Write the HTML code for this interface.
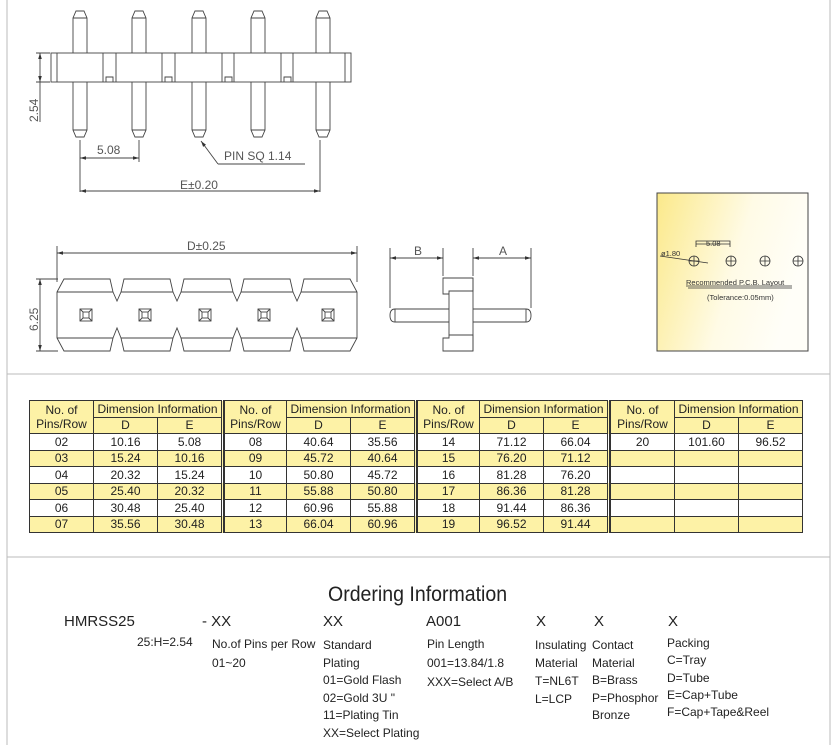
<!DOCTYPE html>
<html><head><meta charset="utf-8"><style>
body{margin:0;width:836px;height:745px;background:#fff;position:relative;overflow:hidden;font-family:"Liberation Sans",Arial,sans-serif}
svg{position:absolute;left:0;top:0}
table{position:absolute;left:29px;top:400px;border-collapse:collapse;font-size:12px;color:#222}
td{border:1px solid #333;text-align:center;height:15.5px;padding:0;line-height:14px}
.y td{background:#fdf2a6}
.h td{background:#fdf2a6}
td.s{border-left:3px double #333;width:0;padding:0}
.o{position:absolute;font-family:"Liberation Sans Narrow","Liberation Sans",sans-serif;font-size:12px;color:#222;white-space:nowrap}
.b{font-size:15px}
</style></head><body>
<svg width="836" height="745" viewBox="0 0 836 745">
<defs>
<linearGradient id="g" x1="0" y1="0" x2="1" y2="0.3"><stop offset="0" stop-color="#fbe98a"/><stop offset="0.6" stop-color="#fffbe6"/><stop offset="1" stop-color="#fffef8"/></linearGradient>
<marker id="a" viewBox="0 0 10 6" refX="10" refY="3" markerWidth="7" markerHeight="4" orient="auto-start-reverse"><path d="M0,0L10,3L0,6z" fill="#333"/></marker>
</defs>
<g stroke="#bbb" fill="none"><line x1="7" y1="0" x2="7" y2="745"/><line x1="830" y1="0" x2="830" y2="745"/><line x1="7" y1="374" x2="830" y2="374"/><line x1="7" y1="557" x2="830" y2="557"/></g>
<g stroke="#444" fill="none" stroke-width="0.9">
<g id="pins">
<path d="M73,130V18L76,11H84L87,18V130L84,137H76Z"/>
<path d="M132,130V18L135,11H143L146,18V130L143,137H135Z"/>
<path d="M192,130V18L195,11H203L206,18V130L203,137H195Z"/>
<path d="M251,130V18L254,11H262L265,18V130L262,137H254Z"/>
<path d="M316,130V18L319,11H327L330,18V130L327,137H319Z"/>
<path d="M73,130h14M132,130h14M192,130h14M251,130h14M316,130h14M73,18h14M132,18h14M192,18h14M251,18h14M316,18h14"/>
</g>
<rect x="51" y="53" width="300" height="29" fill="#fff"/>
<path d="M57,53v29M345,53v29M103,53v29M116,53v29M162,53v29M175,53v29M222,53v29M234,53v29M281,53v29M293,53v29M106,82v-5h7v5M165,82v-5h7v5M225,82v-5h7v5M284,82v-5h7v5"/>
<path d="M36,53h14M36,82h14M80,140v52M139,140v22M320,140v52"/>
<line x1="40" y1="53" x2="40" y2="82" marker-start="url(#a)" marker-end="url(#a)"/>
<line x1="40" y1="82" x2="40" y2="122"/>
<line x1="80" y1="158" x2="139" y2="158" marker-start="url(#a)" marker-end="url(#a)"/>
<line x1="80" y1="191" x2="320" y2="191" marker-start="url(#a)" marker-end="url(#a)"/>
<path d="M218,164L201,141" marker-end="url(#a)"/><path d="M218,164H305"/>
<path d="M57,246v36M357,246v36M36,279h22M36,351h22"/>
<line x1="57" y1="253" x2="357" y2="253" marker-start="url(#a)" marker-end="url(#a)"/>
<line x1="40" y1="279" x2="40" y2="351" marker-start="url(#a)" marker-end="url(#a)"/>
<path d="M57,292L64,279H110L113,292L117,301L121,292L124,279H170L173,292L177,301L181,292L184,279H230L233,292L237,301L241,292L244,279H290L293,292L297,301L301,292L304,279H350L357,292V338L350,351H304L301,338L297,328L293,338L290,351H244L241,338L237,328L233,338L230,351H184L181,338L177,328L173,338L170,351H124L121,338L117,328L113,338L110,351H64L57,338Z"/>
<path d="M57,292H113M121,292H173M181,292H233M241,292H293M301,292H357M57,338H113M121,338H173M181,338H233M241,338H293M301,338H357"/>
<g id="sq"><rect x="80" y="309" width="12" height="12"/><rect x="83" y="312" width="6" height="6"/><path d="M80,309l3,3M92,309l-3,3M80,321l3,-3M92,321l-3,-3"/></g>
<use href="#sq" x="59"/><use href="#sq" x="119"/><use href="#sq" x="178"/><use href="#sq" x="242"/>
<path d="M443,278h30v13h-24v44h24v16h-30v-13h6v-44h-6z"/>
<path d="M473,278v73"/>
<path d="M449,309H395Q390,309 390,315.5Q390,322 395,322H449M473,309H526Q531,309 531,315.5Q531,322 526,322H473M395,309v13M526,309v13"/>
<path d="M390,248v60M443,248v28M473,248v28M531,248v60"/>
<line x1="390" y1="258" x2="443" y2="258" marker-start="url(#a)" marker-end="url(#a)"/>
<line x1="473" y1="258" x2="531" y2="258" marker-start="url(#a)" marker-end="url(#a)"/>
</g>
<g font-family="Liberation Sans,sans-serif" fill="#555" font-size="12">
<text x="0" y="0" transform="translate(38,122) rotate(-90)">2.54</text>
<text x="0" y="0" transform="translate(38,331) rotate(-90)">6.25</text>
<text x="97" y="154">5.08</text>
<text x="224" y="160">PIN  SQ  1.14</text>
<text x="180" y="189">E±0.20</text>
<text x="187" y="250">D±0.25</text>
<text x="414" y="255">B</text>
<text x="499" y="255">A</text>
</g>
<rect x="657" y="193" width="151" height="158" fill="url(#g)" stroke="#444"/>
<g stroke="#333" fill="none" stroke-width="0.8">
<circle cx="694" cy="261" r="5"/><path d="M689,261h10M694,256v10"/>
<circle cx="731" cy="261" r="5"/><path d="M726,261h10M731,256v10"/>
<circle cx="765" cy="261" r="5"/><path d="M760,261h10M765,256v10"/>
<circle cx="798" cy="261" r="5"/><path d="M793,261h10M798,256v10"/>
<path d="M696,247v-6h34v6M696,244h34M660,256L708,263M686,286h106M688,288h104"/>
</g>
<g font-family="Liberation Sans,sans-serif" fill="#333" font-size="7.5">
<text x="706" y="246">5.08</text><text x="661" y="256">ø1.80</text>
<text x="686" y="285">Recommended  P.C.B.  Layout</text>
<text x="707" y="300">(Tolerance:0.05mm)</text>
</g>
</svg>
<table>
<tr class="h"><td rowspan="2" style="width:63px">No. of<br>Pins/Row</td><td colspan="2">Dimension Information</td><td class="s" rowspan="8"></td><td rowspan="2" style="width:61px">No. of<br>Pins/Row</td><td colspan="2">Dimension Information</td><td class="s" rowspan="8"></td><td rowspan="2" style="width:61px">No. of<br>Pins/Row</td><td colspan="2">Dimension Information</td><td class="s" rowspan="8"></td><td rowspan="2" style="width:63px">No. of<br>Pins/Row</td><td colspan="2">Dimension Information</td></tr>
<tr class="h"><td style="width:63px">D</td><td style="width:63px">E</td><td style="width:63px">D</td><td style="width:63px">E</td><td style="width:63px">D</td><td style="width:63px">E</td><td style="width:63px">D</td><td style="width:63px">E</td></tr>
<tr><td>02</td><td>10.16</td><td>5.08</td><td>08</td><td>40.64</td><td>35.56</td><td>14</td><td>71.12</td><td>66.04</td><td>20</td><td>101.60</td><td>96.52</td></tr>
<tr class="y"><td>03</td><td>15.24</td><td>10.16</td><td>09</td><td>45.72</td><td>40.64</td><td>15</td><td>76.20</td><td>71.12</td><td></td><td></td><td></td></tr>
<tr><td>04</td><td>20.32</td><td>15.24</td><td>10</td><td>50.80</td><td>45.72</td><td>16</td><td>81.28</td><td>76.20</td><td></td><td></td><td></td></tr>
<tr class="y"><td>05</td><td>25.40</td><td>20.32</td><td>11</td><td>55.88</td><td>50.80</td><td>17</td><td>86.36</td><td>81.28</td><td></td><td></td><td></td></tr>
<tr><td>06</td><td>30.48</td><td>25.40</td><td>12</td><td>60.96</td><td>55.88</td><td>18</td><td>91.44</td><td>86.36</td><td></td><td></td><td></td></tr>
<tr class="y"><td>07</td><td>35.56</td><td>30.48</td><td>13</td><td>66.04</td><td>60.96</td><td>19</td><td>96.52</td><td>91.44</td><td></td><td></td><td></td></tr>
</table>
<div class="o" style="left:328px;top:583px;font-size:21px;transform:scaleX(0.93);transform-origin:0 0">Ordering Information</div>
<div class="o b" style="left:64px;top:613px">HMRSS25</div>
<div class="o b" style="left:202px;top:613px">- XX</div>
<div class="o b" style="left:323px;top:613px">XX</div>
<div class="o b" style="left:426px;top:613px">A001</div>
<div class="o b" style="left:536px;top:613px">X</div>
<div class="o b" style="left:594px;top:613px">X</div>
<div class="o b" style="left:668px;top:613px">X</div>
<div class="o" style="left:137px;top:635px">25:H=2.54</div>
<div class="o" style="left:212px;top:635px;line-height:19px">No.of Pins per Row<br>01~20</div>
<div class="o" style="left:323px;top:637px;line-height:17.5px">Standard<br>Plating<br>01=Gold Flash<br>02=Gold 3U "<br>11=Plating Tin<br>XX=Select Plating</div>
<div class="o" style="left:427px;top:635px;line-height:19px">Pin Length<br>001=13.84/1.8<br>XXX=Select A/B</div>
<div class="o" style="left:535px;top:636px;line-height:18px">Insulating<br>Material<br>T=NL6T<br>L=LCP</div>
<div class="o" style="left:592px;top:637px;line-height:17.5px">Contact<br>Material<br>B=Brass<br>P=Phosphor<br>Bronze</div>
<div class="o" style="left:667px;top:635px;line-height:17.3px">Packing<br>C=Tray<br>D=Tube<br>E=Cap+Tube<br>F=Cap+Tape&amp;Reel</div>
</body></html>
